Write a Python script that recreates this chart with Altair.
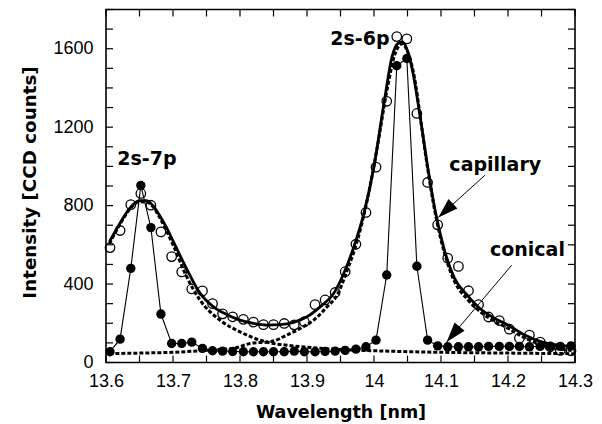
import altair as alt
import pandas as pd

# ---------------- data ----------------
wavelength = [13.606, 13.621, 13.637, 13.652, 13.667, 13.682, 13.698, 13.713, 13.728, 13.744,
              13.759, 13.774, 13.789, 13.805, 13.820, 13.835, 13.850, 13.866, 13.881, 13.896,
              13.912, 13.927, 13.942, 13.957, 13.973, 13.988, 14.003, 14.019, 14.034, 14.049,
              14.064, 14.080, 14.095, 14.110, 14.126, 14.141, 14.156, 14.171, 14.187, 14.202,
              14.217, 14.232, 14.248, 14.263, 14.278, 14.294]
capillary = [586, 673, 805, 862, 802, 666, 540, 462, 375, 365,
             300, 248, 233, 220, 206, 193, 193, 199, 192, 208,
             295, 319, 357, 463, 603, 765, 996, 1332, 1662, 1650,
             1270, 918, 702, 532, 490, 366, 295, 232, 214, 170,
             124, 140, 104, 80, 62, 60]
conical = [55, 119, 480, 903, 688, 247, 97, 97, 104, 72,
           60, 58, 56, 55, 55, 55, 55, 55, 58, 55,
           55, 56, 58, 62, 68, 80, 114, 446, 1513, 1550,
           491, 114, 85, 80, 80, 80, 80, 82, 82, 82,
           82, 80, 82, 82, 82, 84]

# fitted sum (thick solid line)
fit_x = [13.605, 13.62, 13.635, 13.65, 13.66, 13.67, 13.68, 13.69, 13.70, 13.72,
         13.74, 13.76, 13.78, 13.80, 13.82, 13.84, 13.86, 13.88, 13.90, 13.92,
         13.94, 13.955, 13.97, 13.985, 14.00, 14.015, 14.027, 14.035, 14.042, 14.05,
         14.058, 14.068, 14.08, 14.092, 14.105, 14.12, 14.14, 14.16, 14.18, 14.20,
         14.225, 14.25, 14.275, 14.30]
fit_y = [615, 705, 785, 825, 825, 800, 750, 690, 620, 480,
         355, 285, 245, 216, 200, 191, 193, 205, 233, 285,
         353, 455, 591, 762, 1000, 1324, 1560, 1625, 1635, 1590,
         1480, 1273, 1000, 762, 574, 430, 340, 270, 225, 191,
         140, 105, 88, 80]

# 2s-7p component (dashed)
c7_x = [13.605, 13.62, 13.635, 13.65, 13.66, 13.67, 13.68, 13.70, 13.72, 13.74,
        13.77, 13.80, 13.83, 13.845, 13.87, 13.90, 13.95, 14.00, 14.10, 14.20, 14.30]
c7_y = [605, 700, 780, 820, 818, 795, 740, 600, 440, 320,
        216, 156, 114, 100, 88, 78, 66, 60, 52, 48, 45]

# 2s-6p component (dashed)
c6_x = [13.605, 13.65, 13.70, 13.75, 13.79, 13.815, 13.848, 13.87, 13.89, 13.91,
        13.93, 13.945, 13.96, 13.975, 13.99, 14.005, 14.02, 14.032, 14.042, 14.05,
        14.06, 14.07, 14.08, 14.092, 14.105, 14.12, 14.14, 14.16, 14.18, 14.20,
        14.225, 14.25, 14.275, 14.30]
c6_y = [45, 48, 52, 62, 72, 97, 108, 140, 174, 216,
        284, 344, 470, 620, 830, 1100, 1400, 1580, 1625, 1585,
        1460, 1230, 990, 750, 560, 415, 320, 255, 210, 175,
        125, 90, 70, 60]

x_ticks = [13.6, 13.65, 13.7, 13.75, 13.8, 13.85, 13.9, 13.95, 14.0, 14.05, 14.1, 14.15, 14.2, 14.25, 14.3]
x_labels = [13.6, 13.7, 13.8, 13.9, 14.0, 14.1, 14.2, 14.3]
y_ticks = [0, 100, 200, 300, 400, 500, 600, 700, 800, 900, 1000, 1100, 1200,
           1300, 1400, 1500, 1600, 1700, 1800]
y_labels = [0, 400, 800, 1200, 1600]

label_text = ["2s-7p", "2s-6p", "capillary", "conical"]
label_x = [13.661, 13.979, 14.181, 14.229]
label_y = [1008, 1621, 977, 543]

arrow_x = [14.166, 14.2055]
arrow_y = [956, 496]
arrow_tip_x = [14.096, 14.1085]
arrow_tip_y = [740, 105]
arrow_angle = [227, 220]

# ---------------- chart ----------------
W, H = 469, 353
xs = alt.Scale(domain=[13.6, 14.3], nice=False, zero=False)
ys = alt.Scale(domain=[0, 1800], nice=False, zero=False)

xaxis = alt.Axis(values=x_labels, format="~g", ticks=False, domain=False, grid=False,
                 labelFont="Liberation Sans", labelFontSize=18, labelColor="black",
                 labelPadding=10, labelFlush=False,
                 title="Wavelength [nm]", titleFont="DejaVu Sans", titleFontWeight="bold",
                 titleFontSize=17.5, titleColor="black", titleX=W / 2, titleY=55,
                 titleBaseline="alphabetic", titleAlign="center")
yaxis = alt.Axis(values=y_labels, format="d", ticks=False, domain=False, grid=False,
                 labelFont="Liberation Sans", labelFontSize=18, labelColor="black",
                 labelPadding=13, labelFlush=False,
                 title="Intensity [CCD counts]", titleFont="DejaVu Sans", titleFontWeight="bold",
                 titleFontSize=18.3, titleColor="black", titleAngle=-90, titleX=-76,
                 titleY=H / 2 - 4, titleBaseline="middle", titleAlign="center")


def X(f="x"):
    return alt.X(f + ":Q", scale=xs, axis=xaxis, title="Wavelength [nm]")


def Y(f="y"):
    return alt.Y(f + ":Q", scale=ys, axis=yaxis, title="Intensity [CCD counts]")


pts = pd.DataFrame({"x": wavelength, "cap": capillary, "con": conical})
fit = pd.DataFrame({"x": fit_x, "y": fit_y})
c7 = pd.DataFrame({"x": c7_x, "y": c7_y})
c6 = pd.DataFrame({"x": c6_x, "y": c6_y})
xt = pd.DataFrame({"x": x_ticks})
yt = pd.DataFrame({"y": y_ticks})
labs = pd.DataFrame({"x": label_x, "y": label_y, "t": label_text})
arr = pd.DataFrame({"x": arrow_x, "y": arrow_y, "x2": arrow_tip_x, "y2": arrow_tip_y})
heads = pd.DataFrame({"x": arrow_tip_x, "y": arrow_tip_y, "a": arrow_angle})

tk = dict(color="black", strokeWidth=1.2)
tick_b = alt.Chart(xt).mark_rule(**tk).encode(x=X(), y=alt.value(H), y2=alt.value(H - 7))
tick_t = alt.Chart(xt).mark_rule(**tk).encode(x=X(), y=alt.value(0), y2=alt.value(7))
tick_l = alt.Chart(yt).mark_rule(**tk).encode(y=Y(), x=alt.value(0), x2=alt.value(7))
tick_r = alt.Chart(yt).mark_rule(**tk).encode(y=Y(), x=alt.value(W), x2=alt.value(W - 7))

dash = dict(color="black", strokeWidth=3, strokeDash=[4, 2], interpolate="monotone", strokeCap="butt")
l7 = alt.Chart(c7).mark_line(**dash).encode(x=X(), y=Y())
l6 = alt.Chart(c6).mark_line(**dash).encode(x=X(), y=Y())
lfit = alt.Chart(fit).mark_line(color="black", strokeWidth=2.8, interpolate="monotone").encode(x=X(), y=Y())
lcon = alt.Chart(pts).mark_line(color="black", strokeWidth=1.1).encode(x=X(), y=Y("con"))
pcap = alt.Chart(pts).mark_point(shape="circle", filled=False, color="black", size=90,
                                 strokeWidth=1.3, opacity=1).encode(x=X(), y=Y("cap"))
pcon = alt.Chart(pts).mark_circle(color="black", size=88, opacity=1).encode(x=X(), y=Y("con"))

arrows = alt.Chart(arr).mark_rule(color="black", strokeWidth=1).encode(
    x=X(), y=Y(), x2="x2:Q", y2="y2:Q")
arrowheads = alt.Chart(heads).mark_point(
    shape="M0,0L-0.65,2L0.65,2Z", filled=True, color="black", size=400, opacity=1, strokeWidth=0
).encode(x=X(), y=Y(), angle=alt.Angle("a:Q", scale=None))

texts = alt.Chart(labs).mark_text(font="DejaVu Sans", fontWeight="bold", fontSize=19,
                                  color="black", align="center", baseline="alphabetic").encode(
    x=X(), y=Y(), text="t:N")

chart = alt.layer(
    tick_b, tick_t, tick_l, tick_r, l7, l6, lfit, lcon, pcap, pcon, arrows, arrowheads, texts
).properties(
    width=W, height=H,
    autosize=alt.AutoSizeParams(type="none"),
    padding={"left": 98, "top": 1.5, "right": 18, "bottom": 62},
    background="white",
).configure_view(stroke="black", strokeWidth=1.6)

chart.save("out.html", embed_options={"renderer": "svg", "actions": False})
